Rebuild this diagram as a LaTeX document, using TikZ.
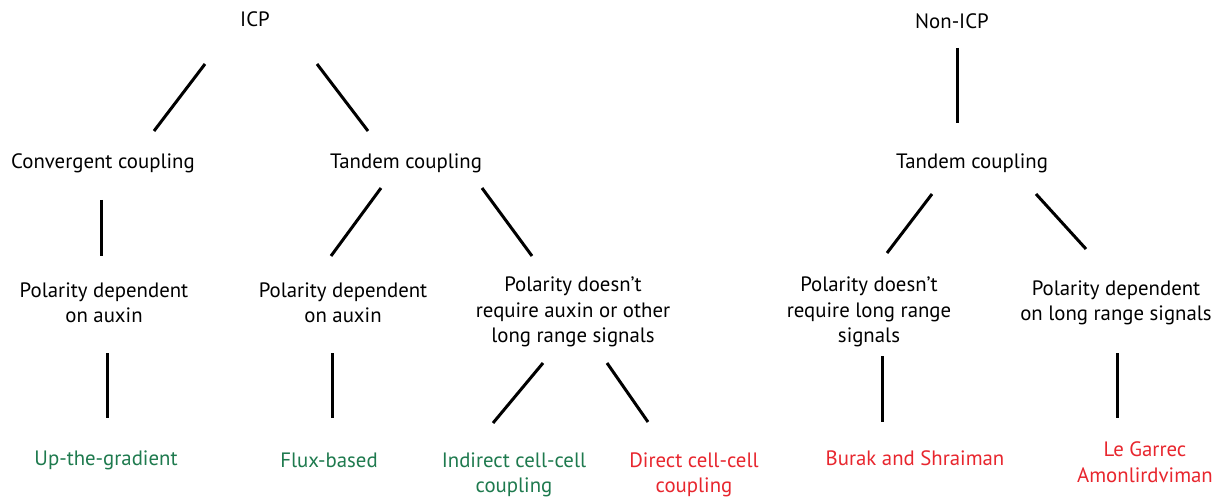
\documentclass[tikz,border=0pt]{standalone}
\usepackage{fontspec}
\setmainfont{PT Sans}
\definecolor{mgreen}{HTML}{1E7A4E}
\definecolor{mred}{HTML}{E8262E}
\begin{document}
\begin{tikzpicture}[x=1pt,y=-1pt,
  lbl/.style={align=center,inner sep=0pt,font=\fontsize{20.8}{25.5}\selectfont},
  grn/.style={lbl,text=mgreen},
  rd/.style={lbl,text=mred},
  edge/.style={line width=3pt,black}]
\useasboundingbox[fill=white] (0,0) rectangle (1231,497);

% ICP branch
\node[lbl] (icp) at (255,19) {ICP};
\node[lbl] (conv) at (103,163) {Convergent coupling};
\node[lbl] (tand) at (406,163) {Tandem coupling};
\node[lbl] (pda) at (104,303) {Polarity dependent\\on auxin};
\node[lbl] (pdb) at (343,303) {Polarity dependent\\on auxin};
\node[lbl] (pnr) at (573,312) {Polarity doesn’t\\require auxin or other\\long range signals};
\node[grn] (up) at (106,460) {Up-the-gradient};
\node[grn] (flux) at (329,460) {Flux-based};
\node[grn] (ind) at (514,475) {Indirect cell-cell\\coupling};
\node[rd] (dir) at (694,475) {Direct cell-cell\\coupling};

% Non-ICP branch
\node[lbl] (nicp) at (952,21) {Non-ICP};
\node[lbl] (tand2) at (972,163) {Tandem coupling};
\node[lbl] (pnl) at (869,312) {Polarity doesn’t\\require long range\\signals};
\node[lbl] (pdl) at (1116,303) {Polarity dependent\\on long range signals};
\node[rd] (burak) at (915,458) {Burak and Shraiman};
\node[rd] (garrec) at (1145,462) {Le Garrec\\Amonlirdviman};

% connector end points
\coordinate (e1a) at (205,64);  \coordinate (e1b) at (154,131);
\coordinate (e2a) at (317,64);  \coordinate (e2b) at (368,131);
\coordinate (e3a) at (101,200); \coordinate (e3b) at (101,256);
\coordinate (e4a) at (381,188); \coordinate (e4b) at (331,256);
\coordinate (e5a) at (482,188); \coordinate (e5b) at (532,256);
\coordinate (e6a) at (107,353); \coordinate (e6b) at (107,418);
\coordinate (e7a) at (332,353); \coordinate (e7b) at (332,418);
\coordinate (e8a) at (543,363); \coordinate (e8b) at (493,423);
\coordinate (e9a) at (607,363); \coordinate (e9b) at (648,422);
\coordinate (f1a) at (957,48);  \coordinate (f1b) at (957,123);
\coordinate (f2a) at (932,194); \coordinate (f2b) at (887,253);
\coordinate (f3a) at (1036,194);\coordinate (f3b) at (1086,249);
\coordinate (f4a) at (882,356); \coordinate (f4b) at (882,422);
\coordinate (f5a) at (1117,353);\coordinate (f5b) at (1117,418);

\foreach \s in {e1,e2,e3,e4,e5,e6,e7,e8,e9,f1,f2,f3,f4,f5}
  \draw[edge] (\s a) -- (\s b);
\end{tikzpicture}
\end{document}
